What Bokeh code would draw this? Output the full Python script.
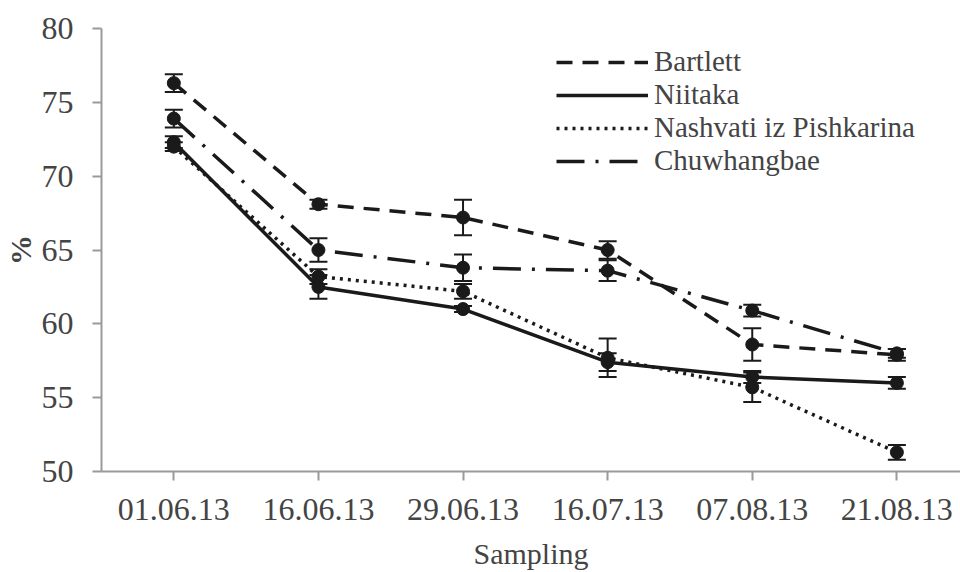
from bokeh.plotting import figure
from bokeh.models import (ColumnDataSource, Whisker, TeeHead, Legend, LegendItem,
                          Range1d, FixedTicker)
from bokeh.embed import file_html
from bokeh.resources import INLINE

dates = ["01.06.13", "16.06.13", "29.06.13", "16.07.13", "07.08.13", "21.08.13"]
xpos = [0, 1, 2, 3, 4, 5]

bartlett = [76.3, 68.1, 67.2, 65.0, 58.6, 57.9]
bartlett_err = [0.6, 0.3, 1.2, 0.6, 1.1, 0.4]
niitaka = [72.3, 62.5, 61.0, 57.4, 56.4, 56.0]
niitaka_err = [0.4, 0.8, 0.2, 0.6, 0.4, 0.4]
nashvati = [72.0, 63.2, 62.2, 57.7, 55.7, 51.3]
nashvati_err = [0.3, 0.5, 0.5, 1.3, 1.0, 0.5]
chuwhang = [73.9, 65.0, 63.8, 63.6, 60.9, 58.0]
chuwhang_err = [0.6, 0.8, 0.9, 0.7, 0.4, 0.3]

series = [
    ("Bartlett", bartlett, bartlett_err, "16 10"),
    ("Niitaka", niitaka, niitaka_err, "solid"),
    ("Nashvati iz Pishkarina", nashvati, nashvati_err, "3 5"),
    ("Chuwhangbae", chuwhang, chuwhang_err, "28 11 3 11"),
]

FONT = "Liberation Serif"
INK = "#1a1a1a"

p = figure(width=960, height=572, output_backend="svg", toolbar_location=None,
           x_range=Range1d(-0.5, 5.44), y_range=Range1d(50, 80),
           min_border_left=100, min_border_right=0, min_border_top=28,
           min_border_bottom=100)
p.outline_line_alpha = 0
p.xgrid.grid_line_alpha = 0
p.ygrid.grid_line_alpha = 0

items = []
for name, vals, errs, dash in series:
    src = ColumnDataSource(dict(x=xpos, y=vals,
                                lo=[v - e for v, e in zip(vals, errs)],
                                hi=[v + e for v, e in zip(vals, errs)]))
    w = Whisker(source=src, base="x", upper="hi", lower="lo",
                line_color=INK, line_width=2,
                upper_head=TeeHead(size=18, line_color=INK, line_width=2),
                lower_head=TeeHead(size=18, line_color=INK, line_width=2))
    p.add_layout(w)
    ln = p.line("x", "y", source=src, line_color=INK, line_width=3.5, line_dash=dash)
    p.scatter("x", "y", source=src, size=13, fill_color=INK, line_color=INK)
    items.append(LegendItem(label=name, renderers=[ln]))

legend = Legend(items=items, location=(455, 294), orientation="vertical",
                glyph_width=92, glyph_height=30, label_height=30, spacing=0,
                padding=0, margin=0, label_standoff=6,
                label_text_font=FONT, label_text_font_size="29px",
                background_fill_alpha=0, border_line_alpha=0)
p.add_layout(legend, "center")

# axes
p.xaxis.ticker = FixedTicker(ticks=xpos)
p.xaxis.major_label_overrides = {i: d for i, d in zip(xpos, dates)}
p.yaxis.ticker = FixedTicker(ticks=[50, 55, 60, 65, 70, 75, 80])
p.xaxis.axis_line_color = "#9a9a9a"
p.yaxis.axis_line_color = "#9a9a9a"
p.xaxis.axis_line_width = 2
p.yaxis.axis_line_width = 2
p.xaxis.major_tick_line_color = "#9a9a9a"
p.yaxis.major_tick_line_color = "#9a9a9a"
p.xaxis.major_tick_line_width = 2
p.yaxis.major_tick_line_width = 2
p.xaxis.major_tick_in = 0
p.yaxis.major_tick_in = 0
p.xaxis.major_tick_out = 9
p.yaxis.major_tick_out = 9
p.xaxis.minor_tick_line_alpha = 0
p.yaxis.minor_tick_line_alpha = 0
p.xaxis.major_label_text_font = FONT
p.yaxis.major_label_text_font = FONT
p.xaxis.major_label_text_font_size = "32px"
p.yaxis.major_label_text_font_size = "32px"

p.xaxis.major_label_standoff = 18
p.yaxis.major_label_standoff = 19
p.xaxis.axis_label = "Sampling"
p.xaxis.axis_label_text_font = FONT
p.xaxis.axis_label_text_font_size = "30px"
p.xaxis.axis_label_text_font_style = "normal"
p.xaxis.axis_label_standoff = 14
p.yaxis.axis_label = "%"
p.yaxis.axis_label_text_font = FONT
p.yaxis.axis_label_text_font_size = "30px"
p.yaxis.axis_label_text_font_style = "bold"
p.yaxis.axis_label_standoff = 2

open("out.html", "w").write(file_html(p, INLINE))
